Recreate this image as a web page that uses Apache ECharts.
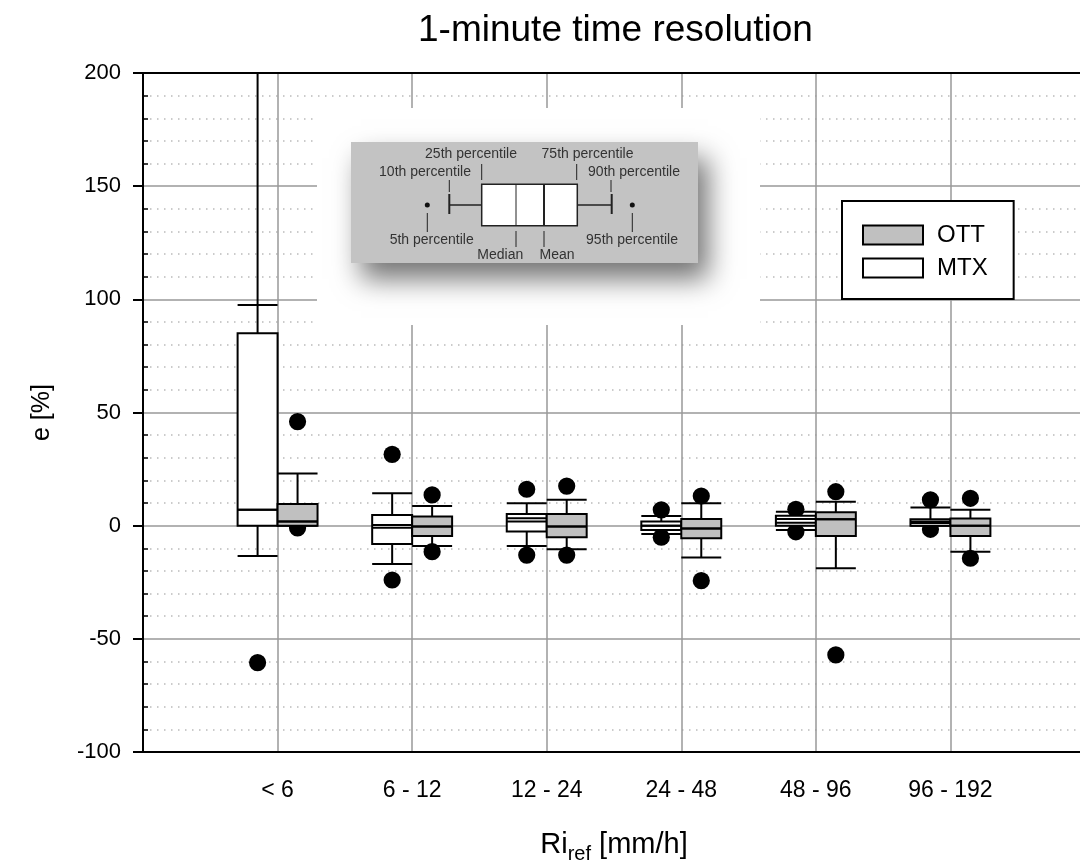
<!DOCTYPE html>
<html><head><meta charset="utf-8">
<script src="https://cdn.jsdelivr.net/npm/echarts@6/dist/echarts.min.js"></script>
<style>html,body{margin:0;padding:0;background:#fff}#c{width:1080px;height:868px}</style>
</head><body><div id="c"></div>
<script>
// ---- data ----
const categories = ['< 6', '6 - 12', '12 - 24', '24 - 48', '48 - 96', '96 - 192'];
const yTicks = [-100, -50, 0, 50, 100, 150, 200];

// MTX percentiles (per category)
const mtxP5     = [-60.5, -24.0, -13.0, -5.1, -2.7, -1.6];
const mtxP10    = [-13.4, -16.9,  -9.0, -3.7, -1.9,  0.0];
const mtxP25    = [  0.0,  -8.1,  -2.6, -1.9,  0.0,  0.0];
const mtxMedian = [  7.0,   0.3,   1.8,  0.0,  1.3,  1.2];
const mtxMean   = [  7.0,  -0.9,   3.3,  0.0,  3.0,  1.8];
const mtxP75    = [ 85.0,   4.7,   5.2,  1.8,  4.4,  2.8];
const mtxP90    = [ 97.5,  14.3,   9.9,  4.3,  6.2,  8.0];
const mtxP95    = [250.0,  31.5,  16.1,  7.0,  7.2, 11.4];

// OTT percentiles (per category)
const ottP5     = [-1.0, -11.5, -13.0, -24.3, -57.1, -14.4];
const ottP10    = [ 0.0,  -9.0, -10.4, -14.1, -18.8, -11.5];
const ottP25    = [ 0.0,  -4.6,  -5.1,  -5.6,  -4.6,  -4.6];
const ottMedian = [ 1.8,  -0.4,  -0.4,  -1.2,   2.8,   0.0];
const ottMean   = [ 1.8,  -0.4,  -0.4,  -1.2,   2.8,   0.0];
const ottP75    = [ 9.6,   4.0,   5.2,   3.0,   5.9,   3.2];
const ottP90    = [23.1,   8.7,  11.4,   9.9,  10.6,   7.0];
const ottP95    = [46.0,  13.6,  17.5,  13.1,  15.0,  12.1];

// ---- build ----
const Y_MIN = yTicks[0], Y_MAX = yTicks[yTicks.length - 1];
const BOX_W = 0.297;
const FONT = 'Liberation Sans, Arial, sans-serif';

function rows(p5, p10, p25, med, mean, p75, p90, p95) {
  return categories.map((c, i) => [i + 1, p5[i], p10[i], p25[i], med[i], mean[i], p75[i], p90[i], p95[i]]);
}

function makeRender(side, fill) {
  return function (params, api) {
    const x = api.value(0);
    const v = i => api.value(i);
    const p5 = v(1), p10 = v(2), p25 = v(3), med = v(4), mean = v(5), p75 = v(6), p90 = v(7), p95 = v(8);
    const x0 = side < 0 ? x - BOX_W : x;
    const x1 = side < 0 ? x : x + BOX_W;
    const xm = (x0 + x1) / 2;
    const clamp = t => Math.max(Y_MIN, Math.min(Y_MAX, t));
    const P = (xx, yy) => api.coord([xx, clamp(yy)]);
    const children = [];
    const st = { stroke: '#000', lineWidth: 2, fill: null };
    const line = (a, b) => children.push({ type: 'line', shape: { x1: a[0], y1: a[1], x2: b[0], y2: b[1] }, style: st });
    [p5, p95].forEach(o => {
      if (o >= Y_MIN && o <= Y_MAX) {
        const c = P(xm, o);
        children.push({ type: 'circle', shape: { cx: c[0], cy: c[1], r: 8.6 }, style: { fill: '#000' } });
      }
    });
    if (p95 > Y_MAX) line(P(xm, p90), P(xm, Y_MAX));
    line(P(xm, p75), P(xm, p90));
    line(P(x0, p90), P(x1, p90));
    line(P(xm, p25), P(xm, p10));
    line(P(x0, p10), P(x1, p10));
    const a = P(x0, p75), b = P(x1, p25);
    children.push({ type: 'rect', shape: { x: a[0], y: a[1], width: b[0] - a[0], height: b[1] - a[1] },
      style: { fill: fill, stroke: '#000', lineWidth: 2 } });
    line(P(x0, med), P(x1, med));
    line(P(x0, mean), P(x1, mean));
    return { type: 'group', children };
  };
}

const OTT_FILL = '#c0c0c0';
const IZ = 7;
const insetText = (t, x, y) => ({ type: 'text', z: IZ + 1, x: x, y: y,
  style: { text: t, fill: '#333', font: '14px ' + FONT, textAlign: 'center', textVerticalAlign: 'middle' } });
const insetLine = (x1, y1, x2, y2, w) => ({ type: 'line', z: IZ + 1, shape: { x1, y1, x2, y2 }, style: { stroke: '#222', lineWidth: w || 1.5 } });

const chart = echarts.init(document.getElementById('c'), null, { renderer: 'canvas' });
chart.setOption({
  animation: false,
  backgroundColor: '#fff',
  title: {
    text: '1-minute time resolution', left: 413, top: 7,
    textStyle: { fontSize: 37, fontWeight: 'normal', fontFamily: FONT, color: '#000' }
  },
  legend: {
    orient: 'vertical', left: 842, top: 201, z: 8,
    padding: [22, 26, 19, 20], itemWidth: 60, itemHeight: 19, itemGap: 9,
    borderColor: '#000', borderWidth: 2, backgroundColor: '#fff',
    icon: 'rect',
    textStyle: { fontSize: 24, fontFamily: FONT, color: '#000', padding: [0, 0, 0, 9] },
    data: [
      { name: 'OTT', itemStyle: { color: OTT_FILL, borderColor: '#000', borderWidth: 2 } },
      { name: 'MTX', itemStyle: { color: '#fff', borderColor: '#000', borderWidth: 2 } }
    ]
  },
  grid: { left: 143, top: 73, right: -5, bottom: 116, outerBoundsMode: 'none', containLabel: false },
  xAxis: [{
    type: 'value', min: 0, max: categories.length + 1, interval: 1, z: 3,
    name: '{a|Ri}{b|ref}{a| [mm/h]}', nameLocation: 'middle', nameGap: 74,
    nameTextStyle: { color: '#000', rich: {
      a: { fontSize: 29, fontFamily: FONT, color: '#000' },
      b: { fontSize: 20, fontFamily: FONT, color: '#000', padding: [18, 0, 0, 0] } } },
    axisLine: { onZero: false, lineStyle: { color: '#000', width: 2 } },
    axisTick: { show: false },
    axisLabel: { fontSize: 23, fontFamily: FONT, color: '#000', margin: 27,
      formatter: v => categories[v - 1] || '' },
    splitLine: { show: true, showMinLine: false, showMaxLine: false, lineStyle: { color: '#999', width: 1.5 } }
  }, {
    type: 'value', position: 'top', min: 0, max: categories.length + 1, z: 3,
    axisLine: { show: true, onZero: false, lineStyle: { color: '#000', width: 2 } },
    axisTick: { show: false }, axisLabel: { show: false }, splitLine: { show: false }
  }],
  yAxis: [{
    type: 'value', min: Y_MIN, max: Y_MAX, interval: 50, z: 3,
    name: 'e [%]', nameLocation: 'middle', nameGap: 88,
    nameTextStyle: { fontSize: 25, fontFamily: FONT, color: '#000' },
    axisLine: { show: true, onZero: false, lineStyle: { color: '#000', width: 2 } },
    axisTick: { show: true, length: 10, lineStyle: { color: '#000', width: 2 } },
    axisLabel: { fontSize: 22, fontFamily: FONT, color: '#000', margin: 22 },
    splitLine: { show: true, showMinLine: false, showMaxLine: false, lineStyle: { color: '#999', width: 1.5 } },
    minorTick: { show: false, splitNumber: 5 },
    minorSplitLine: { show: true, lineStyle: { color: '#bbb', width: 1.5, type: [1.5, 5.5] } }
  }, {
    type: 'value', position: 'left', min: Y_MIN, max: Y_MAX, interval: 50, z: 3,
    axisLine: { show: false, onZero: false }, axisLabel: { show: false }, splitLine: { show: false },
    axisTick: { show: false, inside: true },
    minorTick: { show: true, splitNumber: 5, length: 5, lineStyle: { color: '#000', width: 1.5 } }
  }],
  graphic: [
    { type: 'rect', z: 4, shape: { x: 317, y: 108, width: 443, height: 217 }, style: { fill: '#fff' } },
    { type: 'rect', z: IZ, shape: { x: 351, y: 142, width: 347, height: 121 },
      style: { fill: '#c3c3c3', shadowBlur: 26, shadowOffsetX: 10, shadowOffsetY: 16, shadowColor: 'rgba(0,0,0,0.55)' } },
    insetLine(449.3, 205, 481.7, 205), insetLine(577.3, 205, 611.7, 205),
    insetLine(449.3, 194, 449.3, 214, 2), insetLine(611.7, 194, 611.7, 214, 2),
    { type: 'rect', z: IZ + 1, shape: { x: 481.7, y: 184.3, width: 95.6, height: 41.4 }, style: { fill: '#fff', stroke: '#222', lineWidth: 1.5 } },
    insetLine(516, 184.3, 516, 225.7, 1), insetLine(544, 184.3, 544, 225.7, 2),
    { type: 'circle', z: IZ + 1, shape: { cx: 427.3, cy: 205, r: 2.5 }, style: { fill: '#111' } },
    { type: 'circle', z: IZ + 1, shape: { cx: 632.3, cy: 205, r: 2.5 }, style: { fill: '#111' } },
    insetLine(481.7, 164, 481.7, 180, 1), insetLine(576.7, 164, 576.7, 180, 1),
    insetLine(449.3, 180, 449.3, 192, 1), insetLine(611, 180, 611, 192, 1),
    insetLine(427.3, 213, 427.3, 232, 1), insetLine(632.3, 213, 632.3, 232, 1),
    insetLine(516, 231, 516, 247, 1), insetLine(544, 231, 544, 247, 1),
    insetText('25th percentile', 471, 154), insetText('75th percentile', 587.5, 154),
    insetText('10th percentile', 425, 172.3), insetText('90th percentile', 634, 172.3),
    insetText('5th percentile', 431.7, 240), insetText('95th percentile', 632, 240),
    insetText('Median', 500.3, 255.5), insetText('Mean', 557, 255.5)
  ],
  series: [
    { name: 'MTX', type: 'custom', z: 5, itemStyle: { color: '#fff', borderColor: '#000' },
      renderItem: makeRender(-1, '#fff'),
      encode: { x: 0, y: [1, 2, 3, 4, 5, 6, 7, 8] },
      data: rows(mtxP5, mtxP10, mtxP25, mtxMedian, mtxMean, mtxP75, mtxP90, mtxP95) },
    { name: 'OTT', type: 'custom', z: 5, itemStyle: { color: OTT_FILL, borderColor: '#000' },
      renderItem: makeRender(1, OTT_FILL),
      encode: { x: 0, y: [1, 2, 3, 4, 5, 6, 7, 8] },
      data: rows(ottP5, ottP10, ottP25, ottMedian, ottMean, ottP75, ottP90, ottP95) }
  ]
});
</script></body></html>
